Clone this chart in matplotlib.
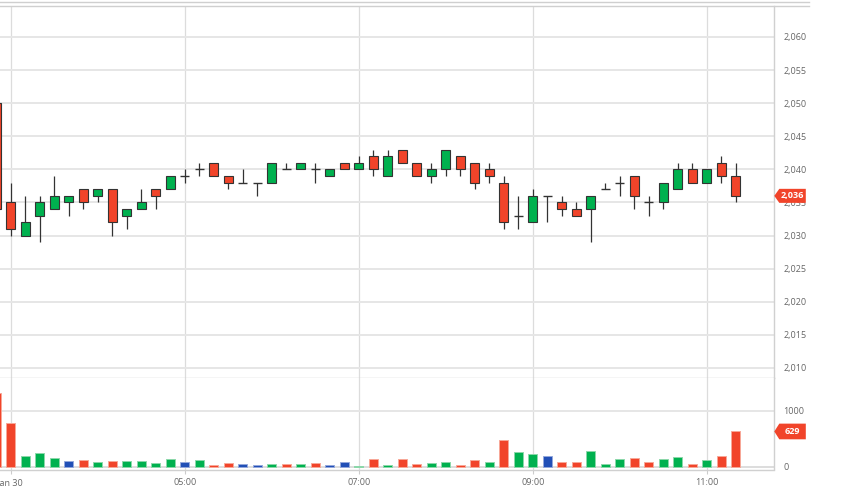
import numpy as np
import matplotlib
matplotlib.use("Agg")
import matplotlib.pyplot as plt
from matplotlib.patches import Polygon
from matplotlib.lines import Line2D
import matplotlib.transforms as mtransforms

plt.rcParams['font.family'] = ['Open Sans', 'DejaVu Sans']

# 10 minute candles, Jan 30, 02:50 .. 11:20
times = ['02:50', '03:00', '03:10', '03:20', '03:30', '03:40', '03:50', '04:00', '04:10', '04:20',
         '04:30', '04:40', '04:50', '05:00', '05:10', '05:20', '05:30', '05:40', '05:50', '06:00',
         '06:10', '06:20', '06:30', '06:40', '06:50', '07:00', '07:10', '07:20', '07:30', '07:40',
         '07:50', '08:00', '08:10', '08:20', '08:30', '08:40', '08:50', '09:00', '09:10', '09:20',
         '09:30', '09:40', '09:50', '10:00', '10:10', '10:20', '10:30', '10:40', '10:50', '11:00',
         '11:10', '11:20']
opens = [2050, 2035, 2030, 2033, 2034, 2035, 2037, 2036, 2037, 2033,
         2034, 2037, 2037, 2039, 2040, 2041, 2039, 2038, 2038, 2038,
         2040, 2040, 2040, 2039, 2041, 2040, 2042, 2039, 2043, 2041,
         2039, 2040, 2042, 2041, 2040, 2038, 2033, 2032, 2036, 2035,
         2034, 2034, 2037, 2038, 2039, 2035, 2035, 2037, 2040, 2038,
         2041, 2039]
highs = [2050, 2038, 2036, 2036, 2039, 2036, 2037, 2037, 2037, 2034,
         2037, 2037, 2039, 2040, 2041, 2041, 2039, 2040, 2038, 2041,
         2041, 2041, 2041, 2040, 2041, 2042, 2043, 2043, 2043, 2041,
         2041, 2043, 2042, 2041, 2041, 2039, 2036, 2037, 2036, 2036,
         2035, 2036, 2038, 2039, 2039, 2036, 2038, 2041, 2041, 2040,
         2042, 2041]
lows = [2034, 2030, 2030, 2029, 2034, 2033, 2034, 2035, 2030, 2031,
        2034, 2034, 2037, 2038, 2039, 2039, 2037, 2038, 2036, 2038,
        2040, 2040, 2038, 2039, 2040, 2040, 2039, 2039, 2041, 2039,
        2038, 2039, 2039, 2037, 2038, 2031, 2031, 2032, 2032, 2033,
        2033, 2029, 2037, 2036, 2034, 2033, 2034, 2037, 2038, 2038,
        2038, 2035]
closes = [2034, 2031, 2032, 2035, 2036, 2036, 2035, 2037, 2032, 2034,
          2035, 2036, 2039, 2039, 2040, 2039, 2038, 2038, 2038, 2041,
          2040, 2041, 2040, 2040, 2040, 2041, 2040, 2042, 2041, 2039,
          2040, 2043, 2040, 2038, 2039, 2032, 2033, 2036, 2036, 2034,
          2033, 2036, 2037, 2038, 2036, 2035, 2038, 2040, 2038, 2040,
          2039, 2036]
volumes = [1320, 773, 196, 237, 160, 102, 125, 77, 95, 95,
           107, 71, 143, 89, 120, 36, 66, 41, 36, 54,
           48, 48, 71, 23, 89, 18, 137, 36, 137, 54,
           59, 89, 36, 113, 89, 470, 256, 232, 185, 77,
           77, 280, 54, 137, 149, 83, 131, 179, 48, 125,
           196, 629]
vol_dir = list('rrgggbrgrg'
               'gggbgrrbbg'
               'rgrbbgrgrr'
               'ggrrgrggbr'
               'rgggrrggrg'
               'rr')
tick_labels = {'03:00': 'Jan 30', '05:00': '05:00', '07:00': '07:00',
               '09:00': '09:00', '11:00': '11:00'}
last_price = 2036
last_volume = 629

RED = '#f1442a'
GREEN = '#00b14f'
BLUE = '#214fb6'
EDGE = '#333333'
GRID = '#e6e6e6'
TXT = '#666666'
vol_col = {'r': RED, 'g': GREEN, 'b': BLUE}
vol_edge = {'r': '#f8a898', 'g': '#8cd8aa', 'b': '#94a8dc'}

x = np.arange(len(times))
o = np.array(opens, float)
h = np.array(highs, float)
l = np.array(lows, float)
c = np.array(closes, float)

fig = plt.figure(figsize=(8.43, 4.92), dpi=100)
W, H = 843.0, 492.0
ax = fig.add_axes([0, 1 - 377.7 / H, 774.3 / W, (377.7 - 6) / H])
axv = fig.add_axes([0, 1 - 469.5 / H, 774.3 / W, (469.5 - 377.7) / H], sharex=ax)

xmin, xmax = 0.262, 53.66
ax.set_xlim(xmin, xmax)
ax.set_ylim(2008.53, 2064.68)
axv.set_ylim(-50, 1589)

tick_pos = [times.index(t) for t in tick_labels]

for a in (ax, axv):
    for s in ('left', 'top'):
        a.spines[s].set_visible(False)
    for s in ('right', 'bottom'):
        a.spines[s].set_color('#d0d0d0')
        a.spines[s].set_linewidth(1.0)
    a.set_xticks(tick_pos)
    for p in tick_pos:
        a.axvline(p, color='#dcdcdc', lw=0.9, zorder=0)
    a.yaxis.tick_right()
    a.tick_params(axis='y', length=0, pad=6.5, labelsize=6.5, labelcolor=TXT)
    for lab in a.get_yticklabels():
        lab.set_horizontalalignment('left')

# price panel
yt = np.arange(2010, 2061, 5)
ax.set_yticks(yt)
ax.set_yticklabels(['{:,}'.format(v) for v in yt])
for v in yt:
    ax.axhline(v, color=GRID, lw=1.4, zorder=0)
ax.tick_params(axis='x', length=0, labelbottom=False)

bw = 0.64
ax.vlines(x, l, h, color=EDGE, lw=0.9, zorder=2)
up = c > o
dn = c < o
eq = c == o
ax.bar(x[up], (c - o)[up], bottom=o[up], width=bw, color=GREEN, edgecolor=EDGE, lw=0.8, zorder=3)
ax.bar(x[dn], (o - c)[dn], bottom=c[dn], width=bw, color=RED, edgecolor=EDGE, lw=0.8, zorder=3)
ax.hlines(o[eq], x[eq] - bw / 2, x[eq] + bw / 2, color=EDGE, lw=1.0, zorder=3)

# volume panel
axv.set_yticks([0, 1000])
axv.set_yticklabels(['0', '1000'])
axv.axhline(1000, color=GRID, lw=1.4, zorder=0)
axv.axhline(0, color='#dddddd', lw=1.4, zorder=0)
axv.bar(x, volumes, width=bw, color=[vol_col[d] for d in vol_dir],
        edgecolor=[vol_edge[d] for d in vol_dir], lw=0.7, zorder=3)
axv.set_xticklabels(list(tick_labels.values()))
axv.tick_params(axis='x', length=3, width=0.8, color='#cccccc', pad=3,
                labelsize=6.5, labelcolor=TXT)


def price_tag(a, yval, half, text):
    tr = mtransforms.blended_transform_factory(a.transAxes, a.transData)
    px = 1.0 / 774.3
    pts = [(1.0, yval), (1 + 5 * px, yval + half), (1 + 31.5 * px, yval + half),
           (1 + 31.5 * px, yval - half), (1 + 5 * px, yval - half)]
    a.add_patch(Polygon(pts, closed=True, transform=tr, clip_on=False,
                        facecolor=RED, edgecolor='none', zorder=5))
    a.text(1 + 18.5 * px, yval, text, transform=tr, ha='center', va='center',
           color='white', fontsize=6.5, fontweight='bold', zorder=6, clip_on=False)


price_tag(ax, last_price, 1.06, '{:,}'.format(last_price))
price_tag(axv, last_volume, 140, str(last_volume))

# double rule along the top
for yy in (2.3, 6.0):
    fig.add_artist(Line2D([0, 809 / W], [1 - yy / H, 1 - yy / H], color='#cfcfcf', lw=1.0))

fig.savefig('out.png', dpi=100)
